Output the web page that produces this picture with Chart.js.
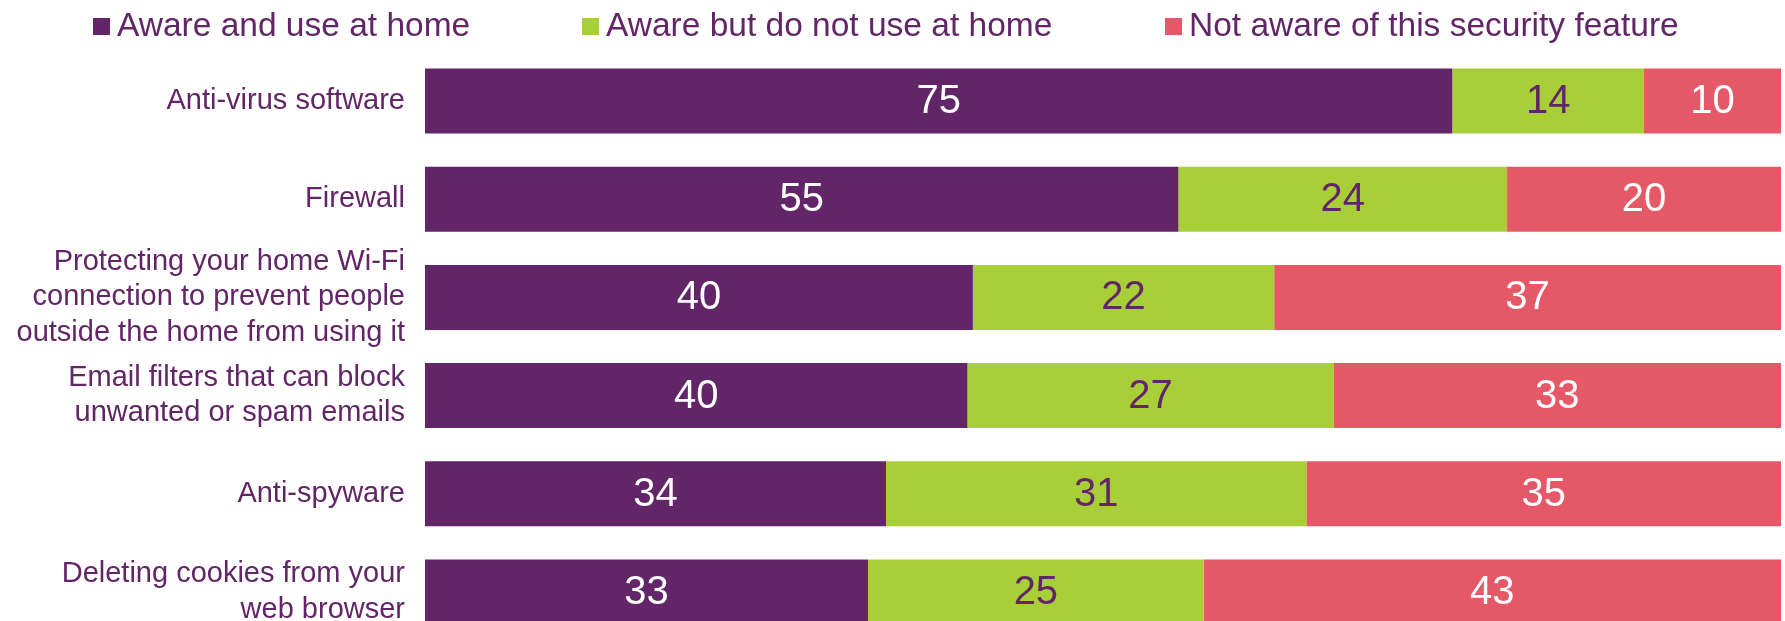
<!DOCTYPE html>
<html>
<head>
<meta charset="utf-8">
<script src="https://cdn.jsdelivr.net/npm/chart.js@4/dist/chart.umd.min.js"></script>
<style>
  html, body { margin: 0; padding: 0; background: #fff; overflow: hidden; }
  #wrap { position: relative; width: 1785px; height: 621px; overflow: hidden; }
  #chart-seguridad { position: absolute; top: 0; left: 0; }
  #legend { position: absolute; top: 0; left: 0; width: 1785px; height: 50px; font-family: 'Liberation Sans', Arial, sans-serif; }
  .leg-item { position: absolute; top: 6px; display: flex; align-items: center; color: #622567; font-size: 33.5px; line-height: 38px; white-space: nowrap; }
  .leg-box { width: 17px; height: 17px; margin-right: 7px; margin-top: 3px; }
</style>
</head>
<body>
<div id="wrap">
  <canvas id="chart-seguridad" width="1785" height="642"></canvas>
  <div id="legend"></div>
</div>
<script>
const categorias = [
  'Anti-virus software',
  'Firewall',
  ['Protecting your home Wi-Fi', 'connection to prevent people', 'outside the home from using it'],
  ['Email filters that can block', 'unwanted or spam emails'],
  'Anti-spyware',
  ['Deleting cookies from your', 'web browser'],
];

const series = ['Aware and use at home', 'Aware but do not use at home', 'Not aware of this security feature'];
const usaEnCasa = [75, 55, 40, 40, 34, 33];
const noUsa = [14, 24, 22, 27, 31, 25];
const noConoce = [10, 20, 37, 33, 35, 43];

const colores = ['#622567', '#a9cf38', '#e55867'];
const coloresTexto = ['#ffffff', '#622567', '#ffffff'];
const legendLeft = [93, 582, 1165];

const valores = [usaEnCasa, noUsa, noConoce];

// each row is drawn as share of its own total (100% stacked)
const totales = categorias.map((c, i) => valores.reduce((sum, arr) => sum + arr[i], 0));
const pct = (arr) => arr.map((v, i) => (v / totales[i]) * 100);

// legend
const legend = document.getElementById('legend');
series.forEach((s, i) => {
  const item = document.createElement('div');
  item.className = 'leg-item';
  item.style.left = legendLeft[i] + 'px';
  item.innerHTML = `<span class="leg-box" style="background:${colores[i]}"></span><span>${s}</span>`;
  legend.appendChild(item);
});

// value labels centred in each segment
const etiquetas = {
  id: 'etiquetas',
  afterDatasetsDraw(chart) {
    const ctx = chart.ctx;
    ctx.save();
    ctx.font = '40px "Liberation Sans", Arial, sans-serif';
    ctx.textAlign = 'center';
    ctx.textBaseline = 'middle';
    chart.data.datasets.forEach((ds, d) => {
      const meta = chart.getDatasetMeta(d);
      meta.data.forEach((bar, i) => {
        ctx.fillStyle = coloresTexto[d];
        ctx.fillText(String(valores[d][i]), (bar.x + bar.base) / 2, bar.y + 1);
      });
    });
    ctx.restore();
  },
};

const ctx = document.getElementById('chart-seguridad').getContext('2d');
window.myChart = new Chart(ctx, {
  type: 'bar',
  data: {
    labels: categorias,
    datasets: series.map((s, i) => ({
      label: s,
      data: pct(valores[i]),
      backgroundColor: colores[i],
      borderWidth: 0,
      categoryPercentage: 1,
      barPercentage: 0.662,
    })),
  },
  options: {
    indexAxis: 'y',
    responsive: false,
    animation: false,
    layout: { padding: { top: 52, bottom: 1, left: 0, right: 4 } },
    plugins: {
      legend: { display: false },
      tooltip: { enabled: false },
    },
    scales: {
      x: { stacked: true, min: 0, max: 100, display: false },
      y: {
        stacked: true,
        border: { display: false },
        grid: { display: false, drawTicks: false },
        afterFit: (scale) => {
          scale.width = 425;
          // multi-line labels shouldn't shrink the plot area
          scale.paddingTop = 0;
          scale.paddingBottom = 0;
        },
        ticks: {
          autoSkip: false,
          padding: 20,
          color: '#622567',
          font: { family: "'Liberation Sans', Arial, sans-serif", size: 29, lineHeight: 1.23 },
        },
      },
    },
  },
  plugins: [etiquetas],
});
</script>
</body>
</html>
